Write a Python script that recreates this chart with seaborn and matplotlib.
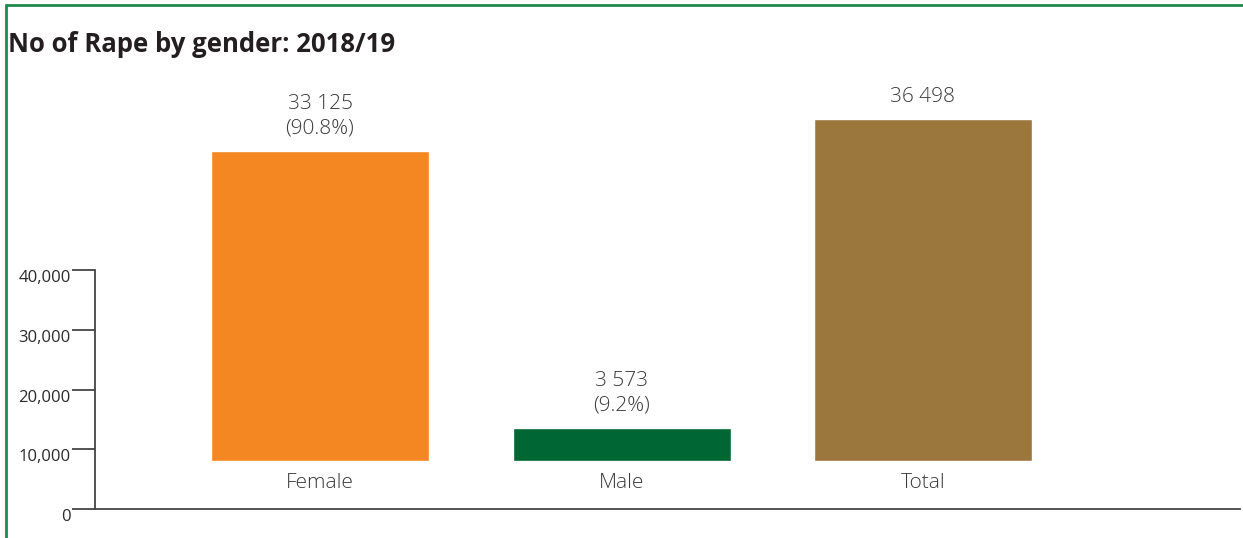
import matplotlib
matplotlib.use("Agg")
import matplotlib.pyplot as plt
from matplotlib.lines import Line2D
from matplotlib.ticker import FuncFormatter
import seaborn as sns

# Data
categories = ["Female", "Male", "Total"]
counts = [33125, 3573, 36498]
shares = ["90.8%", "9.2%", None]
bar_colors = ["#F58722", "#006633", "#9C773D"]
axis_ticks = [0, 10000, 20000, 30000, 40000]

sns.set_theme(style="white")
plt.rcParams["font.family"] = ["Open Sans", "DejaVu Sans"]

TEXT = "#3a3a3a"
W, H = 1243, 538
fig = plt.figure(figsize=(W / 100, H / 100), dpi=100)


def fx(px):
    return px / W


def fy(py):
    return 1 - py / H


# Reference value axis on the left
ax = fig.add_axes([fx(95), fy(509), fx(1240) - fx(95), fy(270) - fy(509)])
ax.set_ylim(0, 40000)
ax.set_yticks(axis_ticks)
ax.yaxis.set_major_formatter(FuncFormatter(lambda v, p: f"{int(v):,}"))
ax.set_xticks([])
for s in ["top", "right"]:
    ax.spines[s].set_visible(False)
for s in ["left", "bottom"]:
    ax.spines[s].set_color("#444444")
    ax.spines[s].set_linewidth(1.3)
ax.tick_params(axis="y", direction="out", length=16.5, width=1.3, color="#444444",
               labelsize=12, labelcolor="#2a2a2a", pad=1, left=True)
for lbl in ax.get_yticklabels():
    lbl.set_verticalalignment("top")
ax.patch.set_alpha(0)

# Bars
base_px = 461
total_px = 342
top_val = 40000
height_px = total_px * top_val / counts[2]
ax2 = fig.add_axes([fx(95), fy(base_px), fx(1240) - fx(95), height_px / H])
sns.barplot(x=categories, y=counts, hue=categories, palette=bar_colors,
            legend=False, width=218 / 301.5, saturation=1, ax=ax2)
ax2.set_ylim(0, top_val)
ax2.set_xlim((95 - 320) / 301.5, (1240 - 320) / 301.5)
ax2.axis("off")
ax2.patch.set_alpha(0)

for i, (cat, val, sh) in enumerate(zip(categories, counts, shares)):
    num = f"{val:,}".replace(",", " ")
    text = num if sh is None else f"{num}\n({sh})"
    ax2.annotate(text, (i, val), xytext=(0, 12), textcoords="offset pixels",
                 ha="center", va="bottom", fontsize=15, color=TEXT,
                 linespacing=1.3, fontweight="light", annotation_clip=False)
    ax2.annotate(cat, (i, 0), xytext=(0, -12), textcoords="offset pixels",
                 ha="center", va="top", fontsize=15, color=TEXT,
                 fontweight="light", annotation_clip=False)

# Title
fig.text(fx(8), fy(45), "No of Rape by gender: 2018/19", ha="left", va="center",
         fontsize=18.5, fontweight="bold", color="#231f20")

# Frame lines
fig.add_artist(Line2D([fx(6), 1], [fy(5), fy(5)], color="#1f8a4c", lw=2,
                      transform=fig.transFigure))
fig.add_artist(Line2D([fx(6), fx(6)], [fy(5), 0], color="#1f8a4c", lw=2,
                      transform=fig.transFigure))

fig.savefig("out.png", dpi=100)
